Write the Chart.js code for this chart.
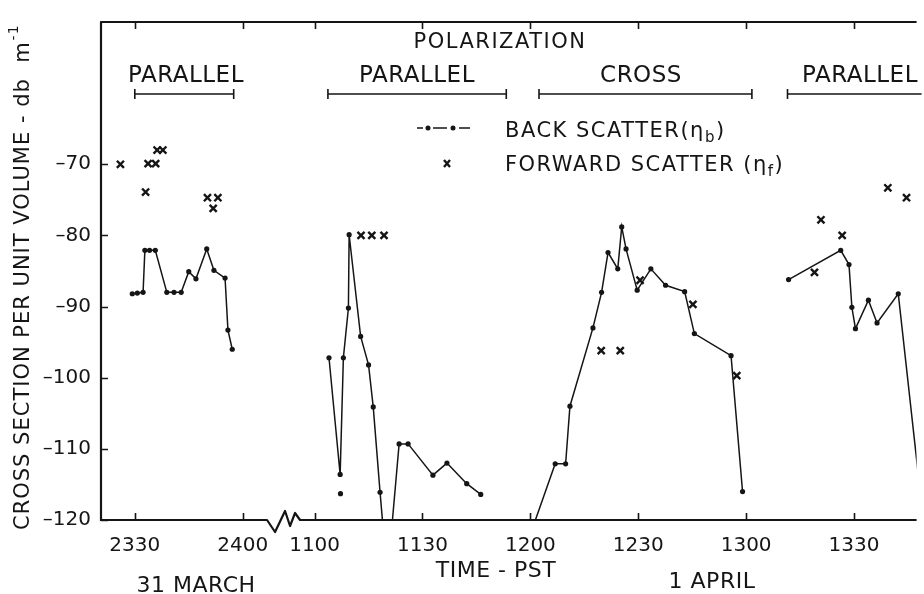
<!DOCTYPE html>
<html>
<head>
<meta charset="utf-8">
<script src="https://cdn.jsdelivr.net/npm/chart.js@4.4.0/dist/chart.umd.min.js"></script>
<style>
  html, body { margin: 0; padding: 0; background: #fff; }
  #wrap { width: 924px; height: 594px; }
</style>
</head>
<body>
<div id="wrap"><canvas id="grafico"></canvas></div>
<script>
// times are clock HHMM with decimal minutes, values in db m^-1

// 31 March
const marBackTime = [2329.3, 2330.7, 2332.3, 2332.8, 2334.1, 2335.7, 2338.9, 2340.9, 2342.9, 2345.0, 2347.0, 2350.0, 2352.0, 2355.1, 2355.9, 2357.1];
const marBackDb   = [-88.2, -88.1, -88.0, -82.1, -82.1, -82.1, -88.0, -88.0, -88.0, -85.1, -86.1, -81.9, -84.9, -86.0, -93.3, -96.0];
const marFwdTime  = [2326.0, 2333.0, 2333.7, 2335.8, 2336.2, 2337.8, 2350.2, 2351.8, 2353.1];
const marFwdDb    = [-70.0, -73.9, -69.9, -69.9, -68.0, -68.0, -74.7, -76.2, -74.7];

// 1 April, back scatter in three runs (line broken between them)
const aprBack1Time = [1104.0, 1107.1, 1108.0, 1109.4, 1109.6, 1112.8, 1115.0, 1116.3, 1118.2, 1119.2, 1121.3, 1123.5, 1126.0, 1132.9, 1136.8, 1142.3, 1146.2];
const aprBack1Db   = [-97.2, -113.6, -97.2, -90.2, -79.9, -94.2, -98.2, -104.1, -116.1, -122, -122, -109.3, -109.3, -113.7, -112.0, -114.9, -116.4];
const aprBack2Time = [1200.7, 1206.9, 1209.8, 1211.0, 1217.4, 1219.8, 1221.6, 1224.3, 1225.4, 1226.6, 1229.7, 1233.5, 1237.6, 1242.9, 1245.6, 1255.8, 1259.0];
const aprBack2Db   = [-121, -112.1, -112.1, -104.0, -93.0, -88.0, -82.4, -84.7, -78.8, -81.9, -87.7, -84.7, -87.0, -87.9, -93.8, -96.9, -116.0];
const aprBack3Time = [1311.8, 1326.3, 1328.6, 1329.4, 1330.4, 1334.0, 1336.4, 1342.3, 1349.0];
const aprBack3Db   = [-86.2, -82.1, -84.1, -90.1, -93.1, -89.1, -92.3, -88.2, -118.8];
const aprLoneTime  = [1107.2];
const aprLoneDb    = [-116.3];
const aprFwdTime = [1112.9, 1115.9, 1119.3, 1219.7, 1225.0, 1230.5, 1245.2, 1257.4, 1319.0, 1320.8, 1326.7, 1339.4, 1344.6];
const aprFwdDb   = [-80.0, -80.0, -80.0, -96.2, -96.2, -86.3, -89.7, -99.7, -85.2, -77.8, -80.0, -73.3, -74.7];

// axis ticks
const marTicks = [2330, 2400];
const aprTicks = [1100, 1130, 1200, 1230, 1300, 1330];
const yTicks = [-120, -110, -100, -90, -80, -70];

const INK = '#151515';
const FONTE = '"DejaVu Sans", sans-serif';
const GAP = 20; // axis minutes left out between 2400 and 1100

function minutos(hhmm) {
    const h = Math.floor(hhmm / 100);
    return h * 60 + (hhmm - h * 100);
}
function posMar(hhmm) { return minutos(hhmm) - (23 * 60 + 30); }
function posAbr(hhmm) { return minutos(hhmm) - 11 * 60 + 30 + GAP; }

function pontos(times, vals, conv) {
    return times.map((t, i) => ({ x: conv(t), y: vals[i] }));
}

const quebra = (px) => ({ x: px, y: null });
const backData = [
    ...pontos(marBackTime, marBackDb, posMar), quebra(40),
    ...pontos(aprBack1Time, aprBack1Db, posAbr), quebra(105),
    ...pontos(aprBack2Time, aprBack2Db, posAbr), quebra(175),
    ...pontos(aprBack3Time, aprBack3Db, posAbr)
];
const fwdData = [...pontos(marFwdTime, marFwdDb, posMar), ...pontos(aprFwdTime, aprFwdDb, posAbr)];
const loneData = pontos(aprLoneTime, aprLoneDb, posAbr);

const xTickPos = [...marTicks.map(posMar), ...aprTicks.map(posAbr)];
const xTickLabels = [...marTicks, ...aprTicks].map(String);

function textoRico(ctx, partes, x, y) {
    let cx = x;
    partes.forEach(p => {
        ctx.font = p.size + 'px ' + FONTE;
        ctx.fillText(p.t, cx, y + (p.dy || 0));
        cx += ctx.measureText(p.t).width;
    });
}

const anotacoes = {
    id: 'anotacoes',
    afterDraw(chart) {
        const { ctx, chartArea: a, scales: { x, y } } = chart;
        ctx.save();
        ctx.strokeStyle = INK;
        ctx.fillStyle = INK;
        ctx.lineJoin = 'round';

        // frame: left axis and top border
        ctx.lineWidth = 2.2;
        ctx.beginPath();
        ctx.moveTo(a.left, a.bottom + 1);
        ctx.lineTo(a.left, a.top);
        ctx.lineTo(a.right, a.top);
        ctx.stroke();

        // bottom axis with zigzag break
        const bx = x.getPixelForValue(41.5);
        const b = a.bottom;
        ctx.beginPath();
        ctx.moveTo(a.left, b);
        ctx.lineTo(bx - 17, b);
        ctx.lineTo(bx - 9, b + 12);
        ctx.lineTo(bx + 1, b - 9);
        ctx.lineTo(bx + 6, b + 6);
        ctx.lineTo(bx + 11, b - 7);
        ctx.lineTo(bx + 16, b);
        ctx.lineTo(a.right, b);
        ctx.stroke();

        // inward ticks
        ctx.lineWidth = 1.6;
        ctx.beginPath();
        xTickPos.forEach(v => {
            const px = Math.round(x.getPixelForValue(v)) + 0.5;
            ctx.moveTo(px, b); ctx.lineTo(px, b - 7);
            ctx.moveTo(px, a.top); ctx.lineTo(px, a.top + 7);
        });
        yTicks.forEach(v => {
            const py = Math.round(y.getPixelForValue(v)) + 0.5;
            ctx.moveTo(a.left, py); ctx.lineTo(a.left + 7, py);
        });
        ctx.stroke();

        // polarization labels and brackets
        ctx.textAlign = 'center';
        ctx.textBaseline = 'alphabetic';
        ctx.font = '21px ' + FONTE;
        ctx.letterSpacing = '1.5px';
        ctx.fillText('POLARIZATION', 500, 48);
        ctx.font = '23px ' + FONTE;
        ctx.letterSpacing = '0.5px';
        ctx.fillText('PARALLEL', 186, 82);
        ctx.fillText('PARALLEL', 417, 82);
        ctx.fillText('CROSS', 641, 82);
        ctx.fillText('PARALLEL', 860, 82);

        const colchetes = [
            [posMar(2330), posMar(2357.5)],
            [posAbr(1103.7), posAbr(1153.3)],
            [posAbr(1202.4), posAbr(1301.6)],
            [posAbr(1311.5), 240]
        ];
        ctx.lineWidth = 1.6;
        ctx.beginPath();
        colchetes.forEach(([i, f]) => {
            const x0 = x.getPixelForValue(i), x1 = Math.min(x.getPixelForValue(f), a.right + 5);
            ctx.moveTo(x0, 94); ctx.lineTo(x1, 94);
            ctx.moveTo(x0, 89); ctx.lineTo(x0, 99);
            if (f < 230) { ctx.moveTo(x1, 89); ctx.lineTo(x1, 99); }
        });
        ctx.stroke();

        // legend
        ctx.lineWidth = 1.5;
        ctx.beginPath();
        [[417, 423], [433, 447], [459, 470]].forEach(([s, e]) => { ctx.moveTo(s, 128); ctx.lineTo(e, 128); });
        ctx.stroke();
        [428, 453].forEach(px => { ctx.beginPath(); ctx.arc(px, 128, 2.5, 0, Math.PI * 2); ctx.fill(); });
        ctx.lineWidth = 2.4;
        ctx.beginPath();
        ctx.moveTo(444, 160); ctx.lineTo(450, 167);
        ctx.moveTo(450, 160); ctx.lineTo(444, 167);
        ctx.stroke();

        ctx.textAlign = 'left';
        ctx.letterSpacing = '1.5px';
        textoRico(ctx, [{ t: 'BACK SCATTER(\u03b7', size: 21 }, { t: 'b', size: 15, dy: 5 }, { t: ')', size: 21 }], 505, 137);
        textoRico(ctx, [{ t: 'FORWARD SCATTER (\u03b7', size: 21 }, { t: 'f', size: 15, dy: 5 }, { t: ')', size: 21 }], 505, 171);

        // bottom captions
        ctx.textAlign = 'center';
        ctx.font = '22px ' + FONTE;
        ctx.letterSpacing = '0.5px';
        ctx.fillText('31 MARCH', 196, 592);
        ctx.fillText('TIME - PST', 496, 577);
        ctx.fillText('1 APRIL', 712, 588);

        // y axis title
        ctx.save();
        ctx.translate(29, 530);
        ctx.rotate(-Math.PI / 2);
        ctx.textAlign = 'left';
        ctx.font = '21px ' + FONTE;
        ctx.letterSpacing = '1px';
        const titulo = 'CROSS SECTION PER UNIT VOLUME - db  m';
        ctx.fillText(titulo, 0, 0);
        const w = ctx.measureText(titulo).width;
        ctx.font = '14px ' + FONTE;
        ctx.fillText('-1', w + 1, -11);
        ctx.restore();

        ctx.restore();
    }
};

new Chart(document.getElementById('grafico').getContext('2d'), {
    type: 'line',
    data: {
        datasets: [
            {
                label: 'BACK SCATTER',
                data: backData,
                borderColor: INK,
                backgroundColor: INK,
                borderWidth: 1.5,
                pointRadius: 2.6,
                pointBorderWidth: 0,
                tension: 0,
                spanGaps: false,
                fill: false
            },
            {
                label: 'BACK SCATTER (loose)',
                data: loneData,
                showLine: false,
                backgroundColor: INK,
                borderColor: INK,
                pointRadius: 2.6,
                pointBorderWidth: 0
            },
            {
                label: 'FORWARD SCATTER',
                data: fwdData,
                showLine: false,
                pointStyle: 'crossRot',
                pointRadius: 5,
                pointBorderWidth: 2.4,
                borderColor: INK,
                backgroundColor: INK
            }
        ]
    },
    options: {
        responsive: true,
        maintainAspectRatio: false,
        animation: false,
        layout: { padding: { top: 12, left: 0, right: 0, bottom: 0 } },
        plugins: {
            legend: { display: false },
            tooltip: { enabled: false }
        },
        scales: {
            x: {
                type: 'linear',
                min: -9.4,
                max: 217.4,
                grid: { display: false, drawTicks: false },
                border: { display: false },
                afterBuildTicks: s => { s.ticks = xTickPos.map(v => ({ value: v })); },
                afterFit: s => { s.height = 74; },
                ticks: {
                    autoSkip: false,
                    maxRotation: 0,
                    padding: 14,
                    color: INK,
                    font: { family: FONTE, size: 20 },
                    callback: (v, i) => xTickLabels[i]
                }
            },
            y: {
                min: -120,
                max: -50,
                grid: { display: false, drawTicks: false },
                border: { display: false },
                afterBuildTicks: s => { s.ticks = yTicks.map(v => ({ value: v })); },
                afterFit: s => { s.width = 101; },
                ticks: {
                    autoSkip: false,
                    padding: 10,
                    color: INK,
                    font: { family: FONTE, size: 20 },
                    callback: v => '\u2013' + Math.abs(v)
                }
            }
        }
    },
    plugins: [anotacoes]
});
</script>
</body>
</html>
